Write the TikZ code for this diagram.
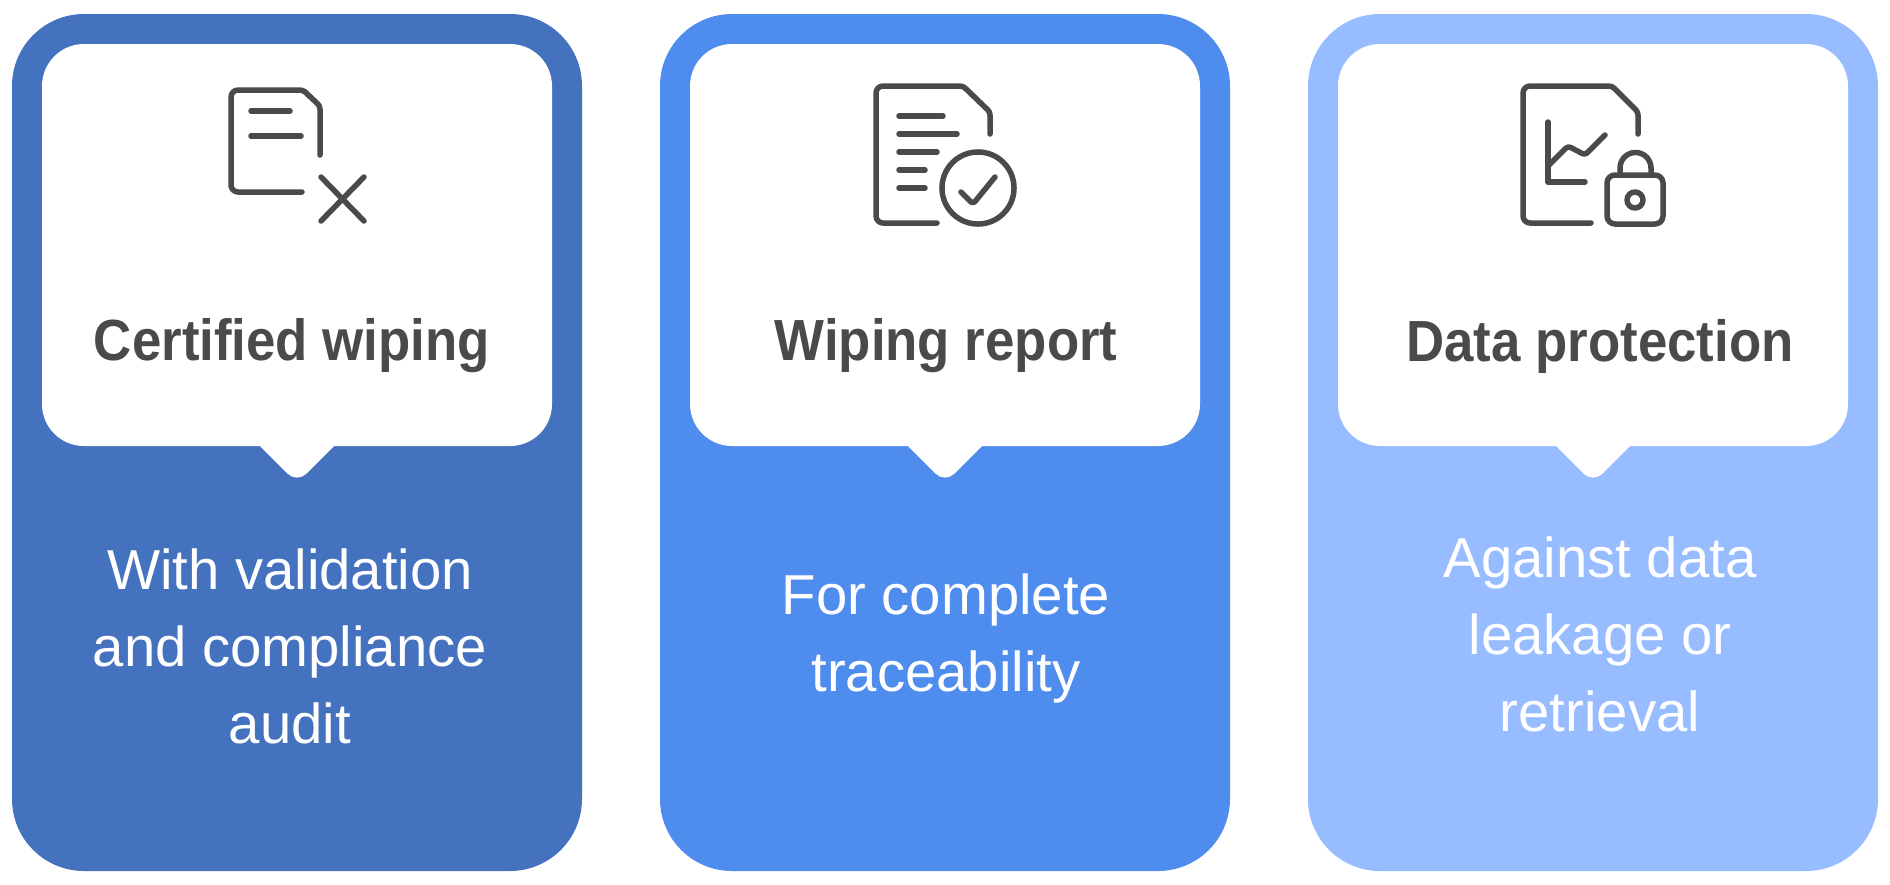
\documentclass[tikz,border=0pt]{standalone}
\usepackage{fontspec}
\setmainfont{Liberation Sans}
\newfontfamily\headfont[FakeStretch=0.91]{Liberation Sans Bold}
\usetikzlibrary{positioning}
\definecolor{cardA}{HTML}{4472BF}
\definecolor{cardB}{HTML}{4E8CEE}
\definecolor{cardC}{HTML}{97BCFF}
\definecolor{ink}{HTML}{4A4A4A}
\tikzset{
  headtext/.style={text=ink, font=\fontsize{16.5}{18}\selectfont\headfont, inner sep=0pt},
  bodytext/.style={text=white, font=\fontsize{16}{21.9}\selectfont, align=center, inner sep=0pt},
  iconline/.style={draw=ink, line width=0.055cm, line cap=round, line join=round}
}
\begin{document}
\begin{tikzpicture}[x=0.01cm, y=-0.01cm]
\useasboundingbox (0,0) rectangle (1890,884);

\foreach \px/\col in {12/cardA,660/cardB,1308/cardC}
{
  \begin{scope}[shift={(\px,0)}]
    \fill[\col, rounded corners=0.72cm] (0,14) rectangle (570,871);
    \fill[white, rounded corners=0.42cm] (30,44) rectangle (540,446);
    \fill[white, rounded corners=0.13cm] (218,416) -- (352,416) -- (285,483) -- cycle;
  \end{scope}
}

\foreach \i/\cx/\hd in {1/292/Certified wiping,2/946/Wiping report,3/1600/Data protection}
{
  \node[headtext] (head\i) at (\cx,346) {\hd};
}

\node[bodytext] (body1) at (290,646) {With validation\\and compliance\\audit};
\node[bodytext] (body2) at (946,638) {For complete\\traceability};
\node[bodytext] (body3) at (1600,634) {Against data\\leakage or\\retrieval};

% file with a cross
\draw[iconline, rounded corners=0.07cm] (302,192) -- (231,192) -- (231,90) [rounded corners=0.03cm] -- (303,90) -- (320,106) -- (320,155);
\draw[iconline] (251,111) -- (290,111);
\draw[iconline] (251,136) -- (301,136);
\draw[iconline] (321,177) -- (364,221);
\draw[iconline] (364,177) -- (321,221);

% file with a check mark
\draw[iconline, rounded corners=0.07cm] (937,223) -- (876,223) -- (876,86) [rounded corners=0.03cm] -- (963,86) -- (990,112) -- (990,134);
\foreach \ly/\lx in {116/943,134/957,152/937,170/925,188/925}
{
  \draw[iconline] (899,\ly) -- (\lx,\ly);
}
\draw[iconline] (978,188) circle [radius=0.36cm];
\draw[iconline, rounded corners=0.03cm] (961,192) -- (973,204) -- (995,177);

% file with a chart and a lock
\draw[iconline, rounded corners=0.07cm] (1591,223) -- (1523,223) -- (1523,86) [rounded corners=0.03cm] -- (1612,86) -- (1638,112) -- (1638,134);
\draw[iconline] (1548,122) -- (1548,182) -- (1585,182);
\draw[iconline, rounded corners=0.03cm] (1548,166) -- (1568,146) -- (1585,155) -- (1605,135);
\draw[iconline, rounded corners=0.08cm] (1607,175) rectangle (1663,224);
\draw[iconline] (1620,175) -- (1620,168) arc [start angle=180, end angle=0, radius=0.155cm] -- (1651,175);
\draw[iconline] (1635,200) circle [radius=0.08cm];
\end{tikzpicture}
\end{document}
